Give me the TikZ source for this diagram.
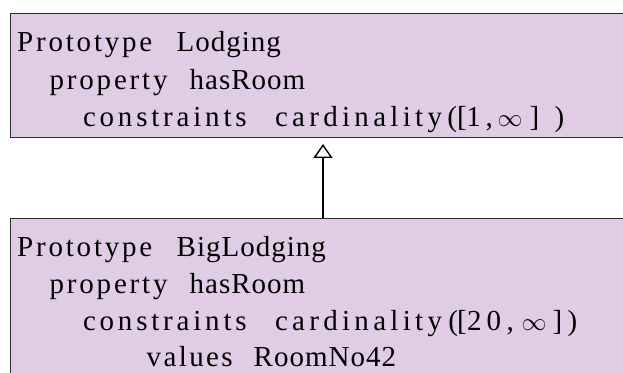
\documentclass[tikz,border=0pt]{standalone}
\usepackage{fontspec}
\setmainfont{Liberation Serif}
\usetikzlibrary{arrows.meta}

\definecolor{protofill}{RGB}{224,204,228}
\definecolor{protoline}{RGB}{45,45,45}

% tracking for identifiers
\newlength\idk \setlength\idk{1pt}

\makeatletter
% keyword: letters spread out by the given tracking
\newcommand\kw[2][2.8pt]{\def\kw@k{#1}\@tfor\kw@c:=#2\do{\kw@c\kern\kw@k}}
% identifier: natural letters with a little extra tracking
\newcommand\idf[1]{\@tfor\idf@c:=#1\do{\idf@c\kern\idk}}
\makeatother
% place material at an absolute offset from the start of the line
\newcommand\putat[2]{\hbox to 0pt{\kern#1\relax#2\hss}}
\newcommand\infsym{{\fontsize{25}{25}\selectfont$\infty$}}

\tikzset{
  protobox/.style={draw=protoline, fill=protofill, line width=1pt,
    rectangle, inner sep=0pt, anchor=north west, minimum width=640pt},
  codeline/.style={inner sep=0pt, anchor=base west,
    font=\fontsize{29}{33}\selectfont},
  inherits/.style={line width=1.4pt, black,
    -{Triangle[open, length=14pt, width=19pt, line width=1.4pt]}},
}

\begin{document}
\begin{tikzpicture}[x=1pt, y=1pt]
\useasboundingbox (0,0) rectangle (623,372);
\clip (0,0) rectangle (623,372);

% prototype boxes
\node[protobox, minimum height=123.5pt] (lodging) at (10,358.5) {};
\node[protobox, minimum height=170pt] (biglodging) at (10,154) {};

% upper prototype
\node[codeline] (l1) at (0,320.3)
  {\putat{16.5pt}{\kw{Prototype}}\putat{176pt}{\idf{Lodging}}};
\node[codeline] (l2) at (0,282.7)
  {\putat{49pt}{\kw{property}}\putat{189pt}{\idf{hasRoom}}};
\node[codeline] (l3) at (0,245.3)
  {\putat{82.3pt}{\kw[3.8pt]{constraints}}\putat{274.3pt}{\kw[4.3pt]{cardinality}}%
   \putat{446.6pt}{(}\putat{456.4pt}{[}\putat{465.7pt}{1}\putat{485pt}{,}%
   \putat{497pt}{\infsym}\putat{529pt}{]}\putat{554pt}{)}};

% lower prototype
\node[codeline] (b1) at (0,115.8)
  {\putat{16.5pt}{\kw{Prototype}}\putat{176pt}{\idf{BigLodging}}};
\node[codeline] (b2) at (0,78.5)
  {\putat{49pt}{\kw{property}}\putat{189pt}{\idf{hasRoom}}};
\node[codeline] (b3) at (0,41.5)
  {\putat{82.3pt}{\kw[3.8pt]{constraints}}\putat{274.3pt}{\kw[4.3pt]{cardinality}}%
   \putat{447.6pt}{(}\putat{456.4pt}{[}\putat{466.5pt}{2}\putat{486pt}{0}%
   \putat{506pt}{,}\putat{521pt}{\infsym}\putat{552pt}{]}\putat{567pt}{)}};
\node[codeline] (b4) at (0,6)
  {\putat{146pt}{\kw[2.4pt]{values}}\putat{253pt}{\idf{RoomNo42}}};

% specialisation arrow
\coordinate (ax) at (323,0);
\draw[inherits, shorten >=6pt] (ax |- biglodging.north) -- (ax |- lodging.south);
\end{tikzpicture}
\end{document}
